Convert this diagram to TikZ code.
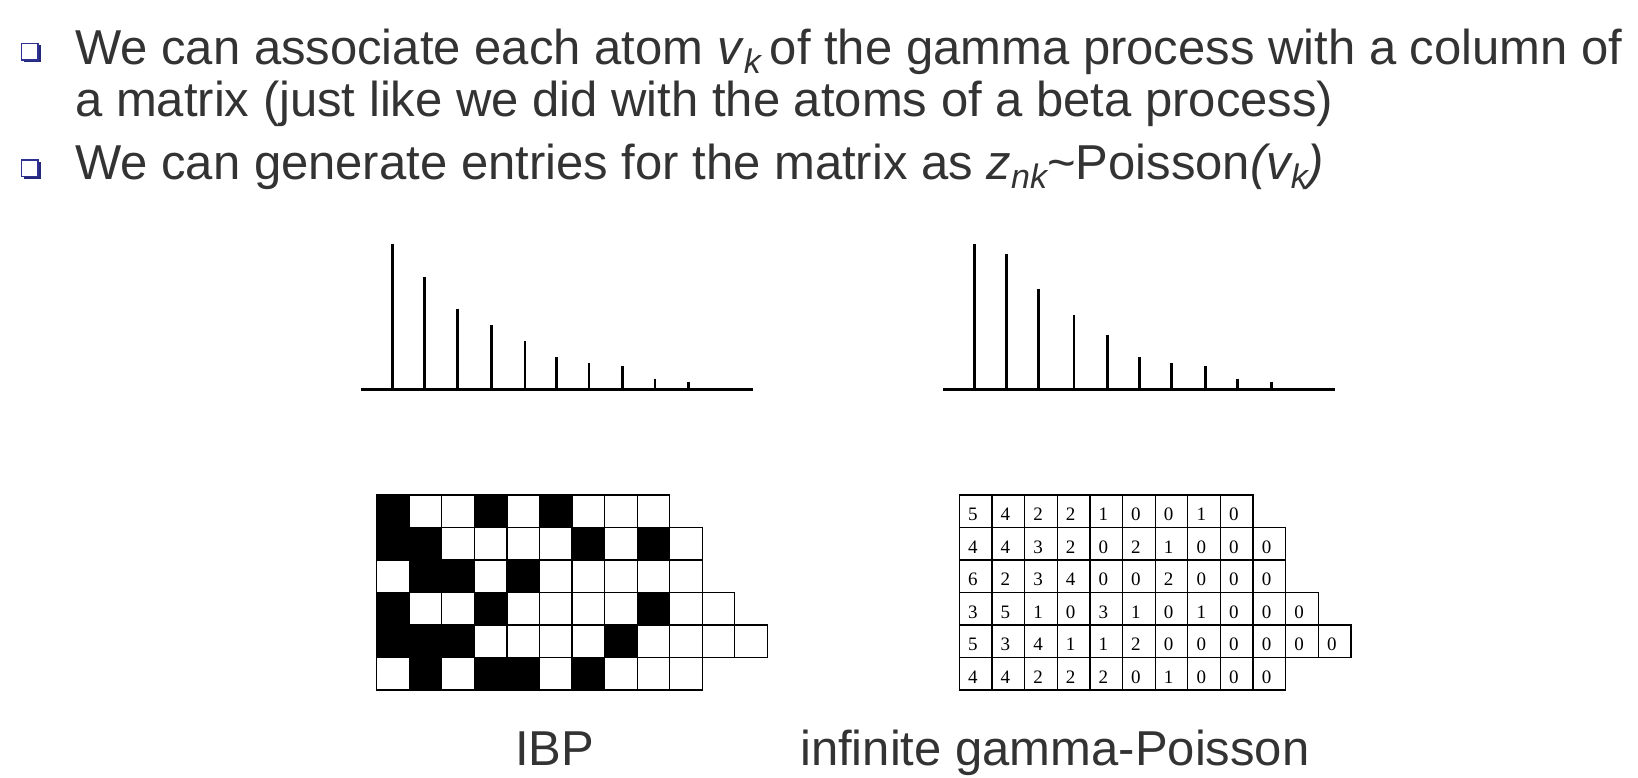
\documentclass[tikz,border=0pt]{standalone}
\usepackage{fontspec}
\setmainfont{Liberation Sans}
\newfontfamily\numfont{Liberation Serif}
\definecolor{txt}{HTML}{333333}
\definecolor{bnavy}{HTML}{2E3192}
\definecolor{bshadow}{HTML}{23277A}
\newcommand\subk[1]{{\fontsize{34}{34}\selectfont\raisebox{-9pt}{\itshape #1}}}
\begin{document}
\begin{tikzpicture}[x=1pt,y=-1pt,
  bodytext/.style={anchor=base west, inner sep=0pt, text=txt, font=\fontsize{49}{58}\selectfont},
  cellline/.style={line width=1.3pt},
  stick/.style={line width=2.8pt},
  axisline/.style={line width=3pt},
  digit/.style={anchor=base west, inner sep=0pt, font=\numfont\fontsize{19}{19}\selectfont}]
\useasboundingbox (0,0) rectangle (1638,778);
\fill[white] (0,0) rectangle (1638,778);

% bullets
\foreach \dy [count=\i] in {0,116.7} {
  \fill[bshadow] (23.5,45.5+\dy) rectangle (40.5,62.5+\dy);
  \filldraw[fill=white, draw=bnavy, line width=1.5pt] (21.5,43.5+\dy) rectangle (38,60+\dy);
}

% text
\node[bodytext] (l1) at (75,65) {We can associate each atom \textit{v}\subk{k}\hspace{9pt}of the gamma process with a column of};
\node[bodytext] (l2) at (75,116.7) {a matrix (just like we did with the atoms of a beta process)};
\node[bodytext] (l3) at (75,180) {We can generate entries for the matrix as \textit{z}\subk{nk}\textasciitilde Poisson\textit{(v\subk{k})}};

% stick plots
\draw[axisline] (360.7,389.3) coordinate (la) -- (753.3,389.3) coordinate (lb);
\foreach \x/\t in {392.3/244, 424.3/276.7, 457.7/308.7, 491.7/325, 525/341.3, 556.7/357.3, 589/362.7, 622.7/366, 655/378.7, 688.7/381.7}
  \draw[stick] (\x,\t) -- (\x,389.3);
\draw[axisline] (943.3,389.3) coordinate (ra) -- (1335,389.3) coordinate (rb);
\foreach \x/\t in {974.7/244, 1006.7/254.3, 1038.3/288.7, 1074/315, 1107.7/334.7, 1139.3/357.3, 1171.7/362.7, 1205.3/366, 1237.7/378.7, 1271.3/381.7}
  \draw[stick] (\x,\t) -- (\x,389.3);

% IBP matrix
\foreach \row [count=\r from 0] in {{1,0,0,1,0,1,0,0,0},{1,1,0,0,0,0,1,0,1,0},{0,1,1,0,1,0,0,0,0,0},{1,0,0,1,0,0,0,0,1,0,0},{1,1,1,0,0,0,0,1,0,0,0,0},{0,1,0,1,1,0,1,0,0,0}} {
  \foreach \v [count=\c from 0] in \row {
    \ifnum\v=1 \fill[black] ({376.67+\c*32.56},{495+\r*32.5}) rectangle ++(32.56,32.5);\fi
    \draw[cellline] ({376.67+\c*32.56},{495+\r*32.5}) rectangle ++(32.56,32.5);
  }
}

% gamma-Poisson matrix
\foreach \row [count=\r from 0] in {{5,4,2,2,1,0,0,1,0},{4,4,3,2,0,2,1,0,0,0},{6,2,3,4,0,0,2,0,0,0},{3,5,1,0,3,1,0,1,0,0,0},{5,3,4,1,1,2,0,0,0,0,0,0},{4,4,2,2,2,0,1,0,0,0}} {
  \foreach \v [count=\c from 0] in \row {
    \draw[cellline] ({959.33+\c*32.64},{495+\r*32.5}) rectangle ++(32.64,32.5);
    \node[digit] (g\r-\c) at ({959.33+\c*32.64+8.5},{495+\r*32.5+25.7}) {\v};
  }
}

% labels
\node[bodytext] (ibp) at (515,765) {IBP};
\node[bodytext] (igp) at (800,765) {infinite gamma-Poisson};
\end{tikzpicture}
\end{document}
